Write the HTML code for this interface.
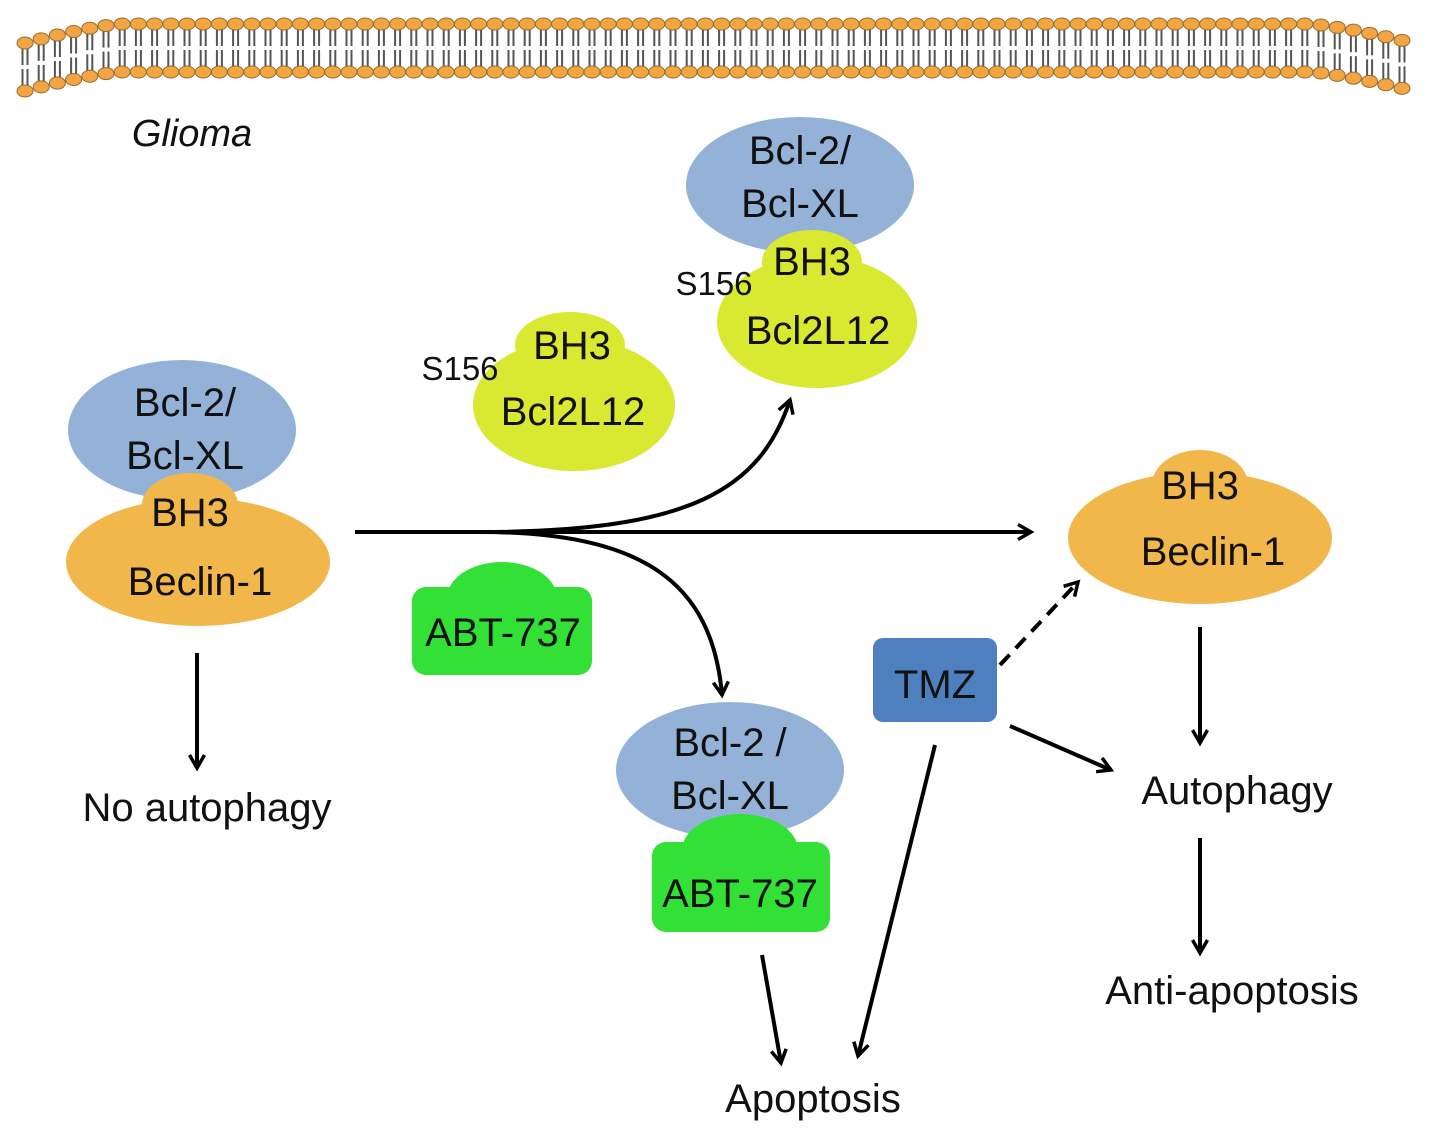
<!DOCTYPE html>
<html><head><meta charset="utf-8"><style>
html,body{margin:0;padding:0;background:#fff}
svg{display:block}
text{font-family:"Liberation Sans",sans-serif;fill:#111}
</style></head><body>
<svg id="s" width="1441" height="1141" viewBox="0 0 1441 1141" xmlns="http://www.w3.org/2000/svg">
<defs>
<marker id="a" markerWidth="18" markerHeight="18" refX="14" refY="9" orient="auto" markerUnits="userSpaceOnUse">
<path d="M1,1.5 L14,9 L1,16.5" fill="none" stroke="#000" stroke-width="3.5"/>
</marker>
</defs>
<g id="mem"></g>

<text x="192" y="146" font-size="38" font-style="italic" text-anchor="middle">Glioma</text>

<!-- left complex -->
<ellipse cx="182" cy="430" rx="114" ry="70" fill="#94b2d8"/>
<ellipse cx="190" cy="505" rx="48" ry="32" fill="#f2b74b"/>
<ellipse cx="198" cy="562" rx="132" ry="64" fill="#f2b74b"/>
<text x="185" y="416" font-size="40" text-anchor="middle">Bcl-2/</text>
<text x="185" y="469" font-size="40" text-anchor="middle">Bcl-XL</text>
<text x="190" y="526" font-size="40" text-anchor="middle">BH3</text>
<text x="200" y="595" font-size="40" text-anchor="middle">Beclin-1</text>

<!-- middle Bcl2L12 -->
<ellipse cx="570" cy="345" rx="55" ry="33" fill="#d9e831"/>
<ellipse cx="574" cy="405" rx="101" ry="66" fill="#d9e831"/>
<text x="572" y="359" font-size="40" text-anchor="middle">BH3</text>
<text x="573" y="425" font-size="40" text-anchor="middle">Bcl2L12</text>
<text x="460" y="380" font-size="33" text-anchor="middle">S156</text>

<!-- top complex -->
<ellipse cx="800" cy="185" rx="114" ry="68" fill="#94b2d8"/>
<ellipse cx="812" cy="262" rx="50" ry="32" fill="#d9e831"/>
<ellipse cx="817" cy="322" rx="100" ry="66" fill="#d9e831"/>
<text x="800" y="164" font-size="40" text-anchor="middle">Bcl-2/</text>
<text x="800" y="217" font-size="40" text-anchor="middle">Bcl-XL</text>
<text x="812" y="275" font-size="40" text-anchor="middle">BH3</text>
<text x="818" y="344" font-size="40" text-anchor="middle">Bcl2L12</text>
<text x="714" y="295" font-size="33" text-anchor="middle">S156</text>

<!-- ABT-737 free -->
<ellipse cx="502" cy="598" rx="55" ry="36" fill="#33e035"/>
<rect x="412" y="587" width="180" height="88" rx="14" fill="#33e035"/>
<text x="503" y="646" font-size="40" text-anchor="middle">ABT-737</text>

<!-- bottom complex -->
<ellipse cx="730" cy="770" rx="114" ry="68" fill="#94b2d8"/>
<ellipse cx="740" cy="850" rx="58" ry="36" fill="#33e035"/>
<rect x="652" y="842" width="178" height="90" rx="14" fill="#33e035"/>
<text x="730" y="756" font-size="40" text-anchor="middle">Bcl-2 /</text>
<text x="730" y="809" font-size="40" text-anchor="middle">Bcl-XL</text>
<text x="740" y="907" font-size="40" text-anchor="middle">ABT-737</text>

<!-- TMZ -->
<rect x="873" y="638" width="124" height="84" rx="10" fill="#4e7fbe"/>
<text x="935" y="698" font-size="40" text-anchor="middle">TMZ</text>

<!-- right beclin -->
<ellipse cx="1200" cy="485" rx="48" ry="35" fill="#f2b74b"/>
<ellipse cx="1200" cy="538" rx="132" ry="66" fill="#f2b74b"/>
<text x="1200" y="499" font-size="40" text-anchor="middle">BH3</text>
<text x="1213" y="565" font-size="40" text-anchor="middle">Beclin-1</text>

<!-- labels -->
<text x="207" y="821" font-size="40" text-anchor="middle">No autophagy</text>
<text x="1237" y="804" font-size="40" text-anchor="middle">Autophagy</text>
<text x="1232" y="1004" font-size="40" text-anchor="middle">Anti-apoptosis</text>
<text x="813" y="1112" font-size="40" text-anchor="middle">Apoptosis</text>

<!-- arrows -->
<g stroke="#000" stroke-width="4" fill="none" marker-end="url(#a)">
<line x1="355" y1="532" x2="1031" y2="532"/>
<path d="M480 532 C 690 532, 760 490, 790 400"/>
<path d="M480 532 C 640 532, 712 580, 722 695"/>
<line x1="197" y1="653" x2="197" y2="768"/>
<line x1="1200" y1="627" x2="1200" y2="743"/>
<line x1="1200" y1="838" x2="1200" y2="953"/>
<line x1="1000" y1="665" x2="1078" y2="582" stroke-dasharray="14,9"/>
<line x1="1010" y1="726" x2="1111" y2="770"/>
<line x1="935" y1="745" x2="858" y2="1056"/>
<line x1="762" y1="955" x2="781" y2="1063"/>
</g>
</svg>
<script>
(function(){
var g=document.getElementById('mem'),h='';
function off(x){if(x<120)return 19*Math.pow((120-x)/95,1.3);if(x>1310)return 19*Math.pow((x-1310)/103,1.3);return 0;}
for(var x=25;x<=1415;x+=16.2){
var o=off(x),t=24+o,b=72+o;
h+='<line x1="'+(x-2.5)+'" y1="'+t+'" x2="'+(x-2.5)+'" y2="'+(t+22)+'" stroke="#555" stroke-width="2"/>';
h+='<line x1="'+(x+2.5)+'" y1="'+t+'" x2="'+(x+2.5)+'" y2="'+(t+22)+'" stroke="#555" stroke-width="2"/>';
h+='<line x1="'+(x-2.5)+'" y1="'+(b-22)+'" x2="'+(x-2.5)+'" y2="'+b+'" stroke="#555" stroke-width="2"/>';
h+='<line x1="'+(x+2.5)+'" y1="'+(b-22)+'" x2="'+(x+2.5)+'" y2="'+b+'" stroke="#555" stroke-width="2"/>';
h+='<ellipse cx="'+x+'" cy="'+t+'" rx="8" ry="6" fill="#f3a544" stroke="#9a6a30" stroke-width="1"/>';
h+='<ellipse cx="'+x+'" cy="'+b+'" rx="8" ry="6" fill="#f3a544" stroke="#9a6a30" stroke-width="1"/>';
}
g.innerHTML=h;
})();
</script>
</body></html>
